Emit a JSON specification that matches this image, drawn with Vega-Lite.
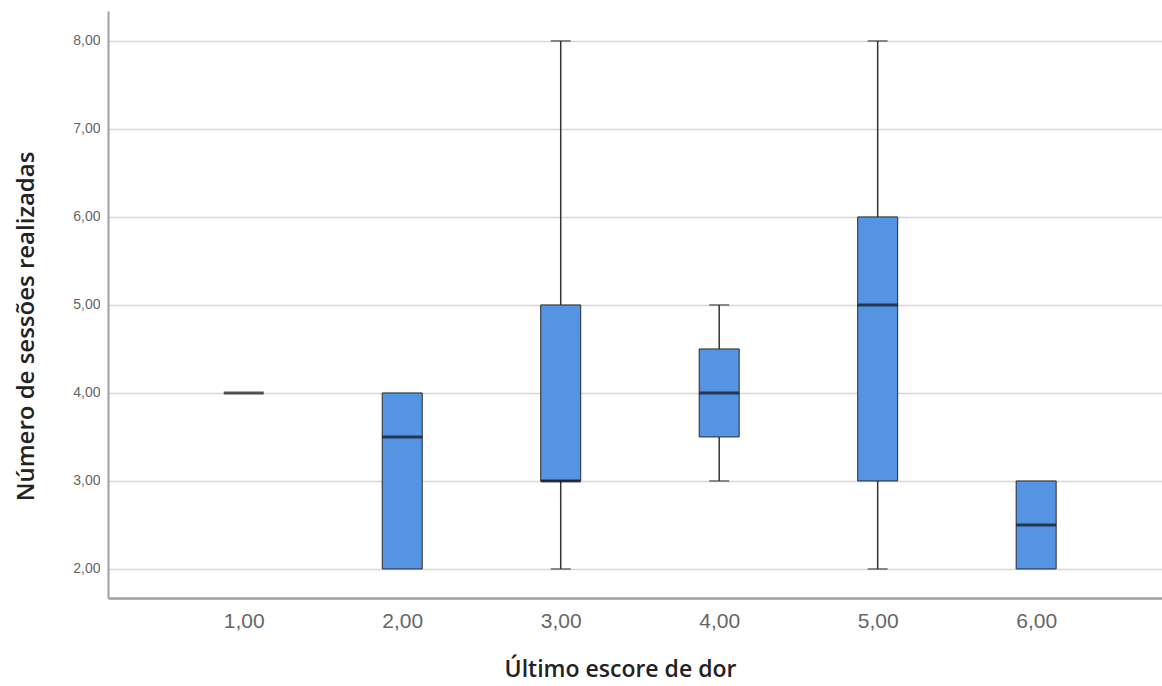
{
  "$schema": "https://vega.github.io/schema/vega-lite/v6.json",
  "width": 1054,
  "height": 587,
  "autosize": {"type": "none"},
  "padding": {"left": 108, "top": 11, "right": 0, "bottom": 88},
  "background": "white",
  "config": {
    "view": {"stroke": null},
    "axis": {"labelFont": "Liberation Sans", "titleFont": "Open Sans"}
  },
  "data": {
    "values": [
      {"score": 1, "lower": 4, "q1": 4, "median": 4, "q3": 4, "upper": 4},
      {"score": 2, "lower": 2, "q1": 2, "median": 3.5, "q3": 4, "upper": 4},
      {"score": 3, "lower": 2, "q1": 3, "median": 3, "q3": 5, "upper": 8},
      {"score": 4, "lower": 3, "q1": 3.5, "median": 4, "q3": 4.5, "upper": 5},
      {"score": 5, "lower": 2, "q1": 3, "median": 5, "q3": 6, "upper": 8},
      {"score": 6, "lower": 2, "q1": 2, "median": 2.5, "q3": 3, "upper": 3}
    ]
  },
  "encoding": {
    "x": {
      "field": "score",
      "type": "quantitative",
      "scale": {"domain": [0.175, 6.7625], "nice": false, "zero": false},
      "axis": {
        "values": [1, 2, 3, 4, 5, 6],
        "labelExpr": "replace(format(datum.value, '.2f'), '.', ',')",
        "grid": false,
        "ticks": false,
        "domainColor": "#a0a0a0",
        "domainWidth": 2.5,
        "labelFontSize": 21,
        "labelColor": "#666666",
        "labelPadding": 12,
        "title": "Último escore de dor",
        "titleFontSize": 23,
        "titleFontWeight": 600,
        "titleColor": "#222222",
        "titlePadding": 27,
        "titleX": 512
      }
    }
  },
  "layer": [
    {
      "mark": {"type": "rule", "color": "#333333", "strokeWidth": 1.5},
      "encoding": {
        "y": {
          "field": "lower",
          "type": "quantitative",
          "scale": {"domain": [1.67, 8.34], "nice": false, "zero": false},
          "axis": {
            "values": [2, 3, 4, 5, 6, 7, 8],
            "labelExpr": "replace(format(datum.value, '.2f'), '.', ',')",
            "grid": true,
            "gridColor": "#d6d6d6",
            "gridWidth": 1.5,
            "ticks": false,
            "domainColor": "#a0a0a0",
            "domainWidth": 2,
            "labelFontSize": 14,
            "labelColor": "#666666",
            "labelPadding": 8,
            "title": "Número de sessões realizadas",
            "titleFontSize": 24,
            "titleFontWeight": 600,
            "titleColor": "#222222",
            "titlePadding": 34,
            "titleY": 315
          }
        },
        "y2": {"field": "upper"}
      }
    },
    {
      "transform": [{"filter": "datum.lower < datum.q1"}],
      "mark": {"type": "tick", "orient": "horizontal", "size": 20, "thickness": 1.5, "color": "#333333"},
      "encoding": {"y": {"field": "lower", "type": "quantitative"}}
    },
    {
      "transform": [{"filter": "datum.upper > datum.q3"}],
      "mark": {"type": "tick", "orient": "horizontal", "size": 20, "thickness": 1.5, "color": "#333333"},
      "encoding": {"y": {"field": "upper", "type": "quantitative"}}
    },
    {
      "transform": [{"filter": "datum.q3 > datum.q1"}],
      "mark": {"type": "bar", "orient": "vertical", "width": 40, "fill": "#5593e3", "stroke": "#2b2b2b", "strokeWidth": 1},
      "encoding": {
        "y": {"field": "q1", "type": "quantitative"},
        "y2": {"field": "q3"}
      }
    },
    {
      "mark": {"type": "tick", "orient": "horizontal", "size": 40, "thickness": 3, "color": "#111111"},
      "encoding": {"y": {"field": "median", "type": "quantitative"}}
    }
  ]
}
